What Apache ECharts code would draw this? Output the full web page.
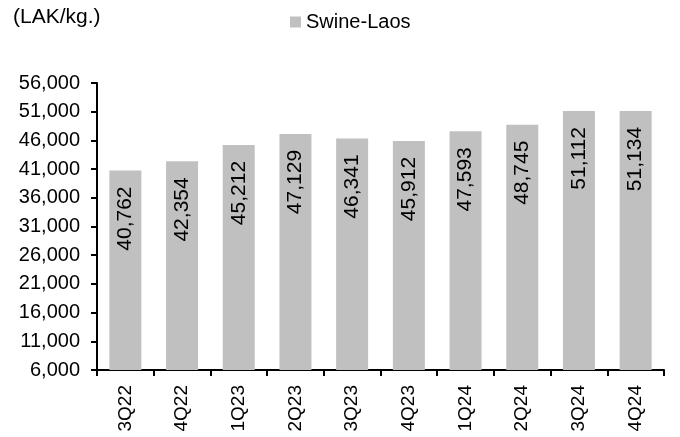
<!DOCTYPE html>
<html>
<head>
<meta charset="utf-8">
<script src="https://cdn.jsdelivr.net/npm/echarts@6/dist/echarts.min.js"></script>
<style>html,body{margin:0;padding:0;background:#fff;}#c{width:680px;height:437px;}</style>
</head>
<body>
<div id="c"></div>
<script>
const categories = ['3Q22','4Q22','1Q23','2Q23','3Q23','4Q23','1Q24','2Q24','3Q24','4Q24'];
const swineLaos = [40762, 42354, 45212, 47129, 46341, 45912, 47593, 48745, 51112, 51134];
const yMin = 6000, yMax = 56000, yStep = 5000;

const chart = echarts.init(document.getElementById('c'), null, {renderer: 'canvas'});
const font = 'Liberation Sans, Arial, sans-serif';
chart.setOption({
  animation: false,
  textStyle: {fontFamily: font},
  graphic: [{
    type: 'text', left: 13, top: 7,
    style: {text: '(LAK/kg.)', font: '21px ' + font, fill: '#000'}
  }],
  legend: {
    data: ['Swine-Laos'],
    left: 290, top: 12, padding: 0,
    icon: 'rect', itemWidth: 11, itemHeight: 11, itemGap: 4,
    textStyle: {fontSize: 20, color: '#000', fontFamily: font}
  },
  grid: {left: 97, right: 16, top: 83, bottom: 67, containLabel: false},
  xAxis: {
    type: 'category', data: categories,
    axisLine: {lineStyle: {color: '#000', width: 2}},
    axisTick: {show: true, length: 6, lineStyle: {color: '#000', width: 2}},
    axisLabel: {rotate: 90, color: '#000', fontSize: 19, fontFamily: font, margin: 15}
  },
  yAxis: {
    type: 'value', min: yMin, max: yMax, interval: yStep,
    axisLine: {show: true, lineStyle: {color: '#000', width: 2}},
    axisTick: {show: true, length: 6, lineStyle: {color: '#000', width: 2}},
    splitLine: {show: false},
    axisLabel: {color: '#000', fontSize: 20, fontFamily: font, margin: 17,
      formatter: v => v.toLocaleString('en-US')}
  },
  series: [{
    name: 'Swine-Laos', type: 'bar', data: swineLaos,
    barWidth: 32,
    itemStyle: {color: '#c0c0c0'},
    label: {
      show: true, position: 'insideTop', rotate: 90, distance: 16,
      align: 'right', verticalAlign: 'middle',
      color: '#000', fontSize: 21, fontFamily: font,
      formatter: p => p.value.toLocaleString('en-US')
    }
  }]
});
</script>
</body>
</html>
